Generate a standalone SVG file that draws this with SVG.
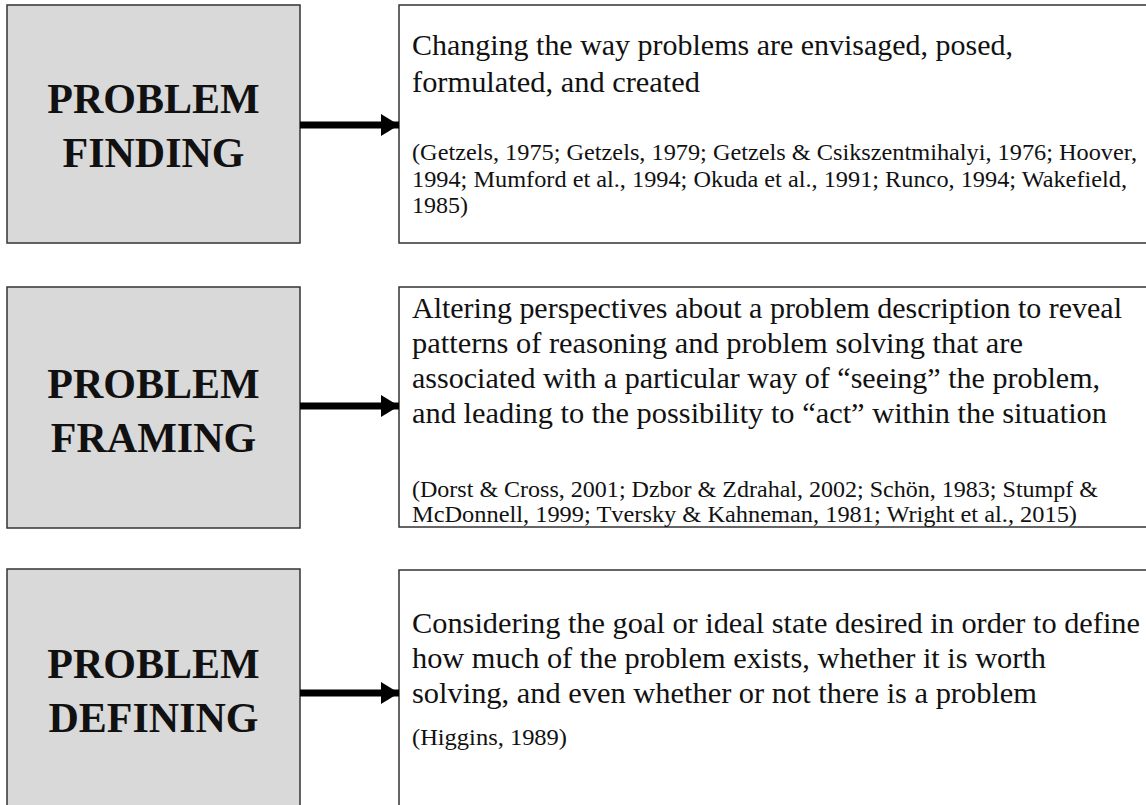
<svg xmlns="http://www.w3.org/2000/svg" width="1146" height="805" viewBox="0 0 1146 805">
  <style>
    .stage { fill: #d9d9d9; stroke: #333; stroke-width: 1.5; }
    .desc { fill: #fff; stroke: #333; stroke-width: 1.5; }
    .title { font-family: "Liberation Serif", "Times New Roman", serif; font-weight: bold; font-size: 42px; fill: #111; text-anchor: middle; }
    .body { font-family: "Liberation Serif", "Times New Roman", serif; font-size: 28.5px; fill: #111; }
    .cite { font-family: "Liberation Serif", "Times New Roman", serif; font-size: 23px; fill: #111; }
    .link { stroke: #000; stroke-width: 7; fill: none; }
  </style>
  <defs>
    <marker id="head" viewBox="0 0 18 22" refX="18" refY="11" markerWidth="18" markerHeight="22" markerUnits="userSpaceOnUse" orient="auto">
      <path d="M0,0 L18,11 L0,22 Z" fill="#000"/>
    </marker>
  </defs>

  <rect width="1146" height="805" fill="#fff"/>

  <!-- Problem finding -->
  <g id="finding">
    <rect class="stage" x="7" y="5" width="293" height="238"/>
    <text class="title" x="153.5" y="113">PROBLEM</text>
    <text class="title" x="153.5" y="167">FINDING</text>
  </g>
  <g id="finding-desc">
    <rect class="desc" x="399" y="5" width="760" height="238"/>
    <text class="body" x="412" y="55" textLength="601" lengthAdjust="spacingAndGlyphs">Changing the way problems are envisaged, posed,</text>
    <text class="body" x="412" y="92" textLength="288" lengthAdjust="spacingAndGlyphs">formulated, and created</text>
    <text class="cite" x="412" y="160" textLength="725" lengthAdjust="spacingAndGlyphs">(Getzels, 1975; Getzels, 1979; Getzels &amp; Csikszentmihalyi, 1976; Hoover,</text>
    <text class="cite" x="412" y="187" textLength="715" lengthAdjust="spacingAndGlyphs">1994; Mumford et al., 1994; Okuda et al., 1991; Runco, 1994; Wakefield,</text>
    <text class="cite" x="412" y="213" textLength="56" lengthAdjust="spacingAndGlyphs">1985)</text>
  </g>

  <!-- Problem framing -->
  <g id="framing">
    <rect class="stage" x="7" y="287" width="293" height="241"/>
    <text class="title" x="153.5" y="398">PROBLEM</text>
    <text class="title" x="153.5" y="452">FRAMING</text>
  </g>
  <g id="framing-desc">
    <rect class="desc" x="399" y="287" width="760" height="240"/>
    <text class="body" x="412" y="318" textLength="710" lengthAdjust="spacingAndGlyphs">Altering perspectives about a problem description to reveal</text>
    <text class="body" x="412" y="353" textLength="611" lengthAdjust="spacingAndGlyphs">patterns of reasoning and problem solving that are</text>
    <text class="body" x="412" y="388" textLength="688" lengthAdjust="spacingAndGlyphs">associated with a particular way of “seeing” the problem,</text>
    <text class="body" x="412" y="423" textLength="695" lengthAdjust="spacingAndGlyphs">and leading to the possibility to “act” within the situation</text>
    <text class="cite" x="412" y="497" textLength="686" lengthAdjust="spacingAndGlyphs">(Dorst &amp; Cross, 2001; Dzbor &amp; Zdrahal, 2002; Schön, 1983; Stumpf &amp;</text>
    <text class="cite" x="412" y="522" textLength="665" lengthAdjust="spacingAndGlyphs">McDonnell, 1999; Tversky &amp; Kahneman, 1981; Wright et al., 2015)</text>
  </g>

  <!-- Problem defining -->
  <g id="defining">
    <rect class="stage" x="7" y="569" width="293" height="250"/>
    <text class="title" x="153.5" y="678">PROBLEM</text>
    <text class="title" x="153.5" y="732">DEFINING</text>
  </g>
  <g id="defining-desc">
    <rect class="desc" x="399" y="570" width="760" height="250"/>
    <text class="body" x="412" y="633" textLength="728" lengthAdjust="spacingAndGlyphs">Considering the goal or ideal state desired in order to define</text>
    <text class="body" x="412" y="668" textLength="634" lengthAdjust="spacingAndGlyphs">how much of the problem exists, whether it is worth</text>
    <text class="body" x="412" y="703" textLength="625" lengthAdjust="spacingAndGlyphs">solving, and even whether or not there is a problem</text>
    <text class="cite" x="412" y="745" textLength="155" lengthAdjust="spacingAndGlyphs">(Higgins, 1989)</text>
  </g>

  <!-- Connectors -->
  <g id="connectors">
    <line class="link" x1="300" y1="125" x2="399" y2="125" marker-end="url(#head)"/>
    <line class="link" x1="300" y1="406" x2="399" y2="406" marker-end="url(#head)"/>
    <line class="link" x1="300" y1="693" x2="399" y2="693" marker-end="url(#head)"/>
  </g>
</svg>
